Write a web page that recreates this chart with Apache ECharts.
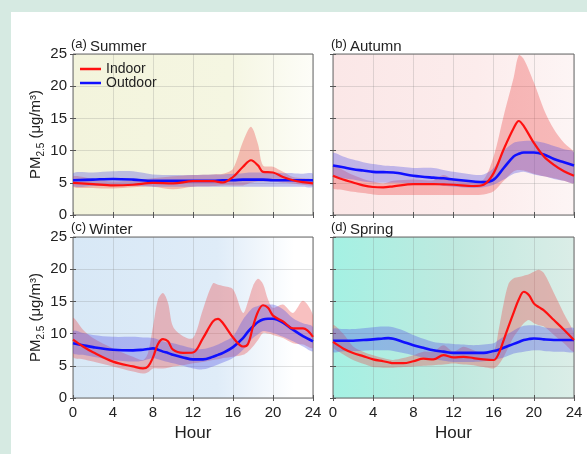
<!DOCTYPE html>
<html><head><meta charset="utf-8">
<script src="https://cdn.jsdelivr.net/npm/echarts@6/dist/echarts.min.js"></script>
<style>html,body{margin:0;padding:0;background:#d6eae2;}#c{width:587px;height:454px;}</style>
</head><body><div id="c"></div>
<script>
// ---- Data (PM2.5, µg/m³) ----
const PANEL_TITLES = ['(a)|Summer', '(b)|Autumn', '(c)|Winter', '(d)|Spring'];
const X_TICKS = [0, 4, 8, 12, 16, 20, 24];
const Y_TICKS = [0, 5, 10, 15, 20, 25];

// (a) Summer
const HOURS_A = [0,2,4,6,8,10,12,14,15,16,17,17.8,18.5,19,20,21,22,23,24];
const SUMMER_IN    = [5.0,4.8,4.6,4.7,5.0,4.9,5.25,5.25,5.05,5.9,7.5,8.5,7.7,6.7,6.6,5.9,5.4,5.1,4.9];
const SUMMER_IN_HI = [6.0,5.6,5.2,5.4,5.7,6.0,6.2,6.3,6.4,7.2,11.4,13.7,11.0,7.7,7.5,6.7,5.9,5.7,5.5];
const SUMMER_IN_LO = [4.4,4.2,4.1,4.3,4.4,4.0,4.4,4.5,4.6,4.6,4.6,5.0,5.2,5.2,5.2,5.0,4.9,4.7,4.6];
const SUMMER_OUT    = [5.4,5.5,5.6,5.5,5.3,5.3,5.3,5.3,5.4,5.4,5.5,5.5,5.5,5.5,5.4,5.4,5.4,5.4,5.4];
const SUMMER_OUT_HI = [6.5,6.6,6.8,6.8,6.3,6.2,6.2,6.3,6.3,6.4,6.5,6.6,6.6,6.6,6.6,6.5,6.5,6.4,6.4];
const SUMMER_OUT_LO = [4.5,4.5,4.6,4.6,4.4,4.4,4.4,4.4,4.4,4.4,4.4,4.4,4.4,4.4,4.4,4.4,4.4,4.4,4.4];

// (b) Autumn
const HOURS_B = [0,1,2,3,4,5,6,8,10,11,12,14,15,16,17,18,18.5,19,20,21,22,23,24];
const AUTUMN_IN    = [6.1,5.5,5.05,4.6,4.35,4.3,4.45,4.8,4.8,4.75,4.7,4.5,4.7,6.5,10.2,13.5,14.6,13.8,11.2,9.1,7.8,6.8,6.1];
const AUTUMN_IN_HI = [7.8,7.0,6.2,5.6,5.2,4.9,5.3,5.5,5.4,6.2,5.5,5.2,5.5,9.1,15.4,21.4,24.8,24.2,20.6,16.4,13.3,11.2,9.6];
const AUTUMN_IN_LO = [4.2,3.9,3.6,3.4,3.2,3.1,3.1,3.1,3.1,3.1,3.1,3.1,3.2,3.7,5.3,6.8,7.0,6.9,6.4,6.0,5.7,5.3,5.0];
const AUTUMN_OUT    = [7.7,7.4,7.1,6.9,6.7,6.65,6.6,6.1,5.8,5.7,5.5,5.2,5.1,5.5,7.3,9.1,9.5,9.7,9.7,9.4,8.7,8.2,7.7];
const AUTUMN_OUT_HI = [9.6,9.1,8.6,8.2,7.9,7.7,7.6,7.3,7.3,7.0,6.7,6.25,6.3,7.3,9.9,11.2,11.4,11.5,11.5,11.2,10.7,10.2,9.7];
const AUTUMN_OUT_LO = [6.0,5.7,5.5,5.2,5.05,5.0,5.0,4.9,4.7,4.55,4.4,4.2,4.3,4.7,5.5,6.4,6.6,6.7,6.3,6.0,5.6,5.3,5.0];

// (c) Winter
const HOURS_C = [0,1,2,4,6,7,7.5,8,8.5,9,9.5,10,11,12,13,14,14.5,15,16,17,17.5,18,18.5,19,19.5,20,21,22,23,24];
const WINTER_IN    = [9.05,8.0,7.1,5.65,4.9,4.6,4.9,6.3,8.4,9.15,8.8,7.5,7.0,7.06,9.3,11.9,12.3,11.6,9.4,8.0,8.4,11.1,13.4,14.4,14.0,12.8,11.9,10.8,10.8,9.5];
const WINTER_IN_HI = [12.4,10.6,9.3,7.7,6.4,5.9,7.0,11.1,15.3,16.3,14.8,11.1,9.6,9.3,13.8,17.8,17.6,17.4,16.9,13.2,15.0,17.4,18.5,17.7,15.3,14.0,14.5,13.2,15.1,12.8];
const WINTER_IN_LO = [6.4,6.0,5.65,4.9,4.1,3.8,4.0,4.6,4.6,4.6,4.7,4.9,5.1,5.4,5.6,5.9,6.0,6.2,6.4,6.7,7.2,8.0,9.0,10.1,10.0,9.8,9.3,8.5,8.3,7.8];
const WINTER_OUT    = [8.5,8.2,7.9,7.5,7.4,7.5,7.6,7.7,7.5,7.2,7.0,6.7,6.3,6.0,6.0,6.4,6.7,7.0,7.9,9.3,10.3,11.1,11.8,12.2,12.3,12.3,11.7,10.6,9.6,8.8];
const WINTER_OUT_HI = [10.4,10.1,9.8,9.5,9.5,9.4,9.4,9.3,9.1,8.8,8.6,8.5,8.1,7.7,7.6,8.0,8.3,8.7,9.6,12.2,13.2,14.0,14.3,14.5,14.5,14.5,13.8,12.4,11.6,11.0];
const WINTER_OUT_LO = [7.0,6.7,6.4,5.9,5.65,5.8,6.0,6.2,6.0,5.8,5.6,5.4,5.0,4.6,4.45,4.9,5.2,5.5,6.2,7.5,8.4,9.3,9.9,10.4,10.3,10.1,9.5,8.8,8.0,7.3];

// (d) Spring
const HOURS_D = [0,1,2,3,4,5,5.5,6,7,8,9,10,11,12,13,14,15,16,16.5,17,17.5,18,18.5,19,19.5,20,20.5,21,22,23,24];
const SPRING_IN    = [8.7,7.7,7.0,6.5,6.0,5.7,5.55,5.4,5.4,5.7,6.1,6.0,6.65,6.3,6.4,6.2,6.0,5.9,6.9,9.0,11.2,13.3,15.3,16.5,16.0,14.7,14.1,13.6,12.1,10.6,9.0];
const SPRING_IN_HI = [11.3,10.0,8.0,7.2,6.65,6.2,6.0,5.9,6.2,6.65,7.2,7.2,8.2,7.2,7.95,7.4,6.9,7.2,10.6,14.7,17.8,18.6,18.8,19.0,19.2,19.6,19.9,19.4,16.3,13.1,10.0];
const SPRING_IN_LO = [7.95,6.8,5.9,5.3,4.8,4.7,4.7,4.7,4.8,4.9,5.0,5.1,5.2,5.35,5.2,5.1,4.8,4.6,5.2,6.4,8.0,9.5,10.6,11.6,12.1,11.6,11.3,11.1,9.8,8.5,7.2];
const SPRING_OUT    = [8.9,8.9,8.9,9.0,9.1,9.25,9.3,9.2,8.7,8.2,7.8,7.4,7.2,7.0,7.0,7.0,7.0,7.3,7.5,7.8,8.1,8.4,8.7,9.0,9.15,9.25,9.2,9.1,9.0,9.0,9.0];
const SPRING_OUT_HI = [10.7,10.7,10.7,10.85,11.0,11.1,11.1,11.0,10.5,9.8,9.2,8.7,8.5,8.4,8.3,8.2,8.3,8.5,9.0,9.5,10.0,10.5,10.9,11.2,11.3,11.3,11.2,11.0,10.8,10.8,10.8];
const SPRING_OUT_LO = [7.2,7.25,7.3,7.35,7.4,7.4,7.4,7.3,7.0,6.65,6.3,6.0,5.8,5.6,5.6,5.6,5.7,5.9,6.1,6.3,6.6,6.9,7.05,7.2,7.3,7.4,7.4,7.3,7.2,7.2,7.2];

const PANELS = [
  {h: HOURS_A, inn: SUMMER_IN, inHi: SUMMER_IN_HI, inLo: SUMMER_IN_LO, out: SUMMER_OUT, outHi: SUMMER_OUT_HI, outLo: SUMMER_OUT_LO},
  {h: HOURS_B, inn: AUTUMN_IN, inHi: AUTUMN_IN_HI, inLo: AUTUMN_IN_LO, out: AUTUMN_OUT, outHi: AUTUMN_OUT_HI, outLo: AUTUMN_OUT_LO},
  {h: HOURS_C, inn: WINTER_IN, inHi: WINTER_IN_HI, inLo: WINTER_IN_LO, out: WINTER_OUT, outHi: WINTER_OUT_HI, outLo: WINTER_OUT_LO},
  {h: HOURS_D, inn: SPRING_IN, inHi: SPRING_IN_HI, inLo: SPRING_IN_LO, out: SPRING_OUT, outHi: SPRING_OUT_HI, outLo: SPRING_OUT_LO}
];

// ---- Layout / styles ----
const FONT = 'Liberation Sans, Arial, sans-serif';
const GRIDS = [
  {left: 73, top: 54, width: 240, height: 161},
  {left: 333, top: 54, width: 241, height: 161},
  {left: 73, top: 237, width: 240, height: 161},
  {left: 333, top: 237, width: 241, height: 161}
];
const BG = [
  [[0,'#f3f4dc'],[0.65,'#f5f6e2'],[1,'#fdfdf8']],
  [[0,'#fbe7e7'],[0.6,'#fcecec'],[1,'#fdf5f5']],
  [[0,'#d8e8f6'],[0.6,'#dfecf8'],[0.92,'#ffffff'],[1,'#ffffff']],
  [[0,'#a4f1e3'],[0.5,'#bfe9df'],[1,'#dbede7']]
];
const RED = '#ff1010', BLUE = '#1010ff';
const RED_BAND = 'rgba(235,70,70,0.34)', BLUE_BAND = 'rgba(80,80,230,0.34)';

const grid = [], xAxis = [], yAxis = [], series = [], title = [];
PANELS.forEach((p, i) => {
  const g = GRIDS[i];
  grid.push(Object.assign({
    show: true, borderColor: '#6b6b6b', borderWidth: 1,
    backgroundColor: {type: 'linear', x: 0, y: 0, x2: 1, y2: 0,
      colorStops: BG[i].map(s => ({offset: s[0], color: s[1]}))}
  }, g));
  const bottomRow = i >= 2, leftCol = i % 2 === 0;
  xAxis.push({
    type: 'value', gridIndex: i, min: 0, max: 24, interval: 4,
    axisLine: {show: false},
    axisTick: {show: true, inside: true, length: 3, lineStyle: {color: '#555'}},
    splitLine: {show: true, lineStyle: {color: 'rgba(120,120,120,0.22)', width: 1}},
    axisLabel: {show: bottomRow, fontSize: 15, color: '#222', fontFamily: FONT, margin: 7,
      formatter: v => X_TICKS.includes(v) ? String(v) : ''},
    name: bottomRow ? 'Hour' : '', nameLocation: 'middle', nameGap: 27,
    nameTextStyle: {fontSize: 17, color: '#222', fontFamily: FONT}
  });
  xAxis.push({
    type: 'value', gridIndex: i, min: 0, max: 24, interval: 4, position: 'top',
    axisLine: {show: false}, axisLabel: {show: false}, splitLine: {show: false},
    axisTick: {show: true, inside: true, length: 3, lineStyle: {color: '#555'}}
  });
  yAxis.push({
    type: 'value', gridIndex: i, min: 0, max: 25, interval: 5,
    axisLine: {show: false},
    axisTick: {show: true, inside: true, length: 3, lineStyle: {color: '#555'}},
    splitLine: {show: true, lineStyle: {color: 'rgba(120,120,120,0.22)', width: 1}},
    axisLabel: {show: leftCol, fontSize: 15, color: '#222', fontFamily: FONT, margin: 6,
      formatter: v => Y_TICKS.includes(v) ? String(v) : ''},
    name: leftCol ? '{n|PM}{s|2.5}{n| (μg/m³)}' : '', nameLocation: 'middle', nameGap: 23, nameRotate: 90,
    nameTextStyle: {fontFamily: FONT, color: '#222', rich: {
      n: {fontSize: 15, lineHeight: 18, verticalAlign: 'top', color: '#222', fontFamily: FONT},
      s: {fontSize: 10, lineHeight: 12, padding: [8, 0, 0, 0], verticalAlign: 'bottom', color: '#222', fontFamily: FONT}
    }}
  });
  yAxis.push({
    type: 'value', gridIndex: i, min: 0, max: 25, interval: 5, position: 'right',
    axisLine: {show: false}, axisLabel: {show: false}, splitLine: {show: false},
    axisTick: {show: true, inside: true, length: 3, lineStyle: {color: '#555'}}
  });
  const xi = i * 2, yi = i * 2;
  // band drawn as a smoothed polygon through the axis scales (api.coord)
  const band = (lo, hi, col) => {
    series.push({
      type: 'custom', xAxisIndex: xi, yAxisIndex: yi, silent: true, clip: true,
      encode: {x: 0, y: [1, 2]},
      data: p.h.map((h, k) => [h, lo[k], hi[k]]),
      renderItem: (params, api) => {
        if (params.dataIndex !== 0) return null;
        const up = p.h.map((h, k) => api.coord([h, hi[k]]));
        const dn = p.h.map((h, k) => api.coord([h, lo[k]])).reverse();
        return {
          type: 'polygon',
          shape: {points: up.concat(dn), smooth: 0.3},
          style: {fill: col, stroke: 'none'}
        };
      }
    });
  };
  band(p.inLo, p.inHi, RED_BAND);
  band(p.outLo, p.outHi, BLUE_BAND);
  series.push({
    name: 'Outdoor', type: 'line', xAxisIndex: xi, yAxisIndex: yi, symbol: 'none', smooth: 0.35,
    color: BLUE, lineStyle: {color: BLUE, width: 2.6},
    data: p.h.map((h, k) => [h, p.out[k]])
  });
  series.push({
    name: 'Indoor', type: 'line', xAxisIndex: xi, yAxisIndex: yi, symbol: 'none', smooth: 0.35,
    color: RED, lineStyle: {color: RED, width: 2.2},
    data: p.h.map((h, k) => [h, p.inn[k]])
  });
  const [tag, label] = PANEL_TITLES[i].split('|');
  title.push({
    text: '{p|' + tag + '}{t|' + label + '}',
    left: g.left - 2, top: g.top - 16, padding: 0,
    textStyle: {fontWeight: 'normal', rich: {
      p: {fontSize: 13, lineHeight: 18, verticalAlign: 'top', fontWeight: 'normal', color: '#222', fontFamily: FONT},
      t: {fontSize: 15, lineHeight: 18, padding: [0, 0, 0, 3], fontWeight: 'normal', color: '#222', fontFamily: FONT}
    }}
  });
});

const chart = echarts.init(document.getElementById('c'), null, {renderer: 'canvas'});
chart.setOption({
  animation: false,
  backgroundColor: '#d6eae2',
  graphic: [{type: 'rect', left: 11, top: 12, shape: {width: 576, height: 442}, style: {fill: '#ffffff'}, z: -10, silent: true}],
  title: title,
  legend: {
    data: ['Indoor', 'Outdoor'], orient: 'vertical', left: 80, top: 62, padding: 0,
    icon: 'rect', itemWidth: 21, itemHeight: 2.5, itemGap: 0,
    textStyle: {fontSize: 14, lineHeight: 14, color: '#222', fontFamily: FONT}
  },
  grid: grid, xAxis: xAxis, yAxis: yAxis, series: series
});
</script></body></html>
